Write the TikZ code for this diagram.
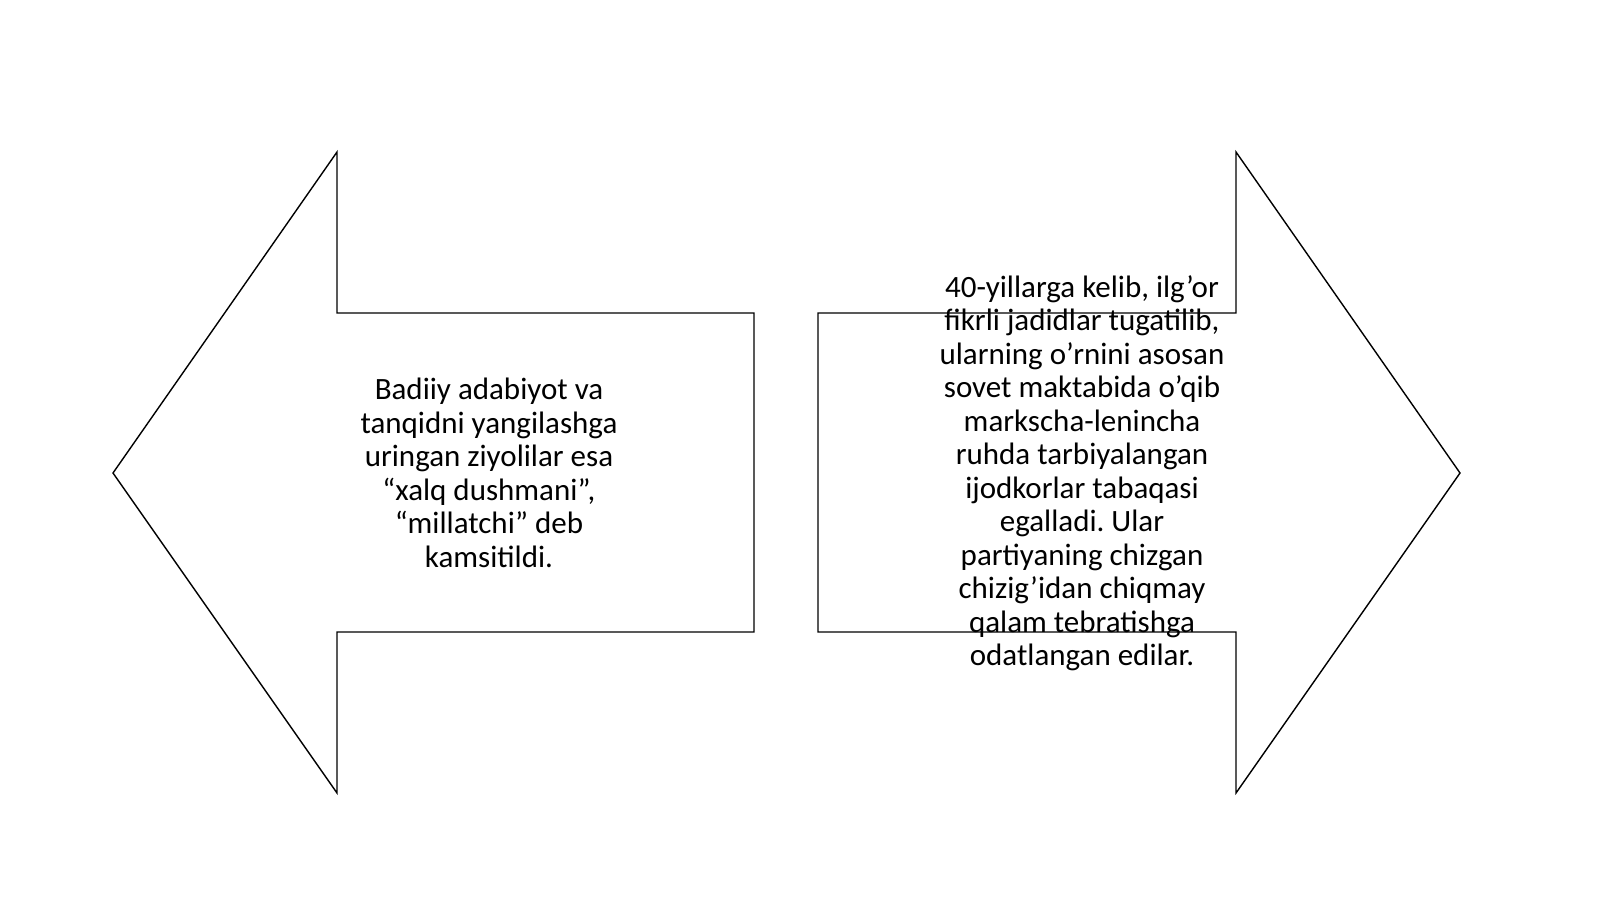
\documentclass[tikz,border=0pt]{standalone}
\usepackage{fontspec}
\setmainfont{Carlito}
\usepackage{tikz}
\usetikzlibrary{positioning}
\frenchspacing

\begin{document}
\begin{tikzpicture}[x=0.5pt,y=-0.5pt,
                    every node/.style={align=center,font=\fontsize{15.5}{16.75}\selectfont},
                    arrowshape/.style={draw=black,line width=0.7pt,line join=miter}]
    \useasboundingbox (0,0) rectangle (1600,899);

    %Arrows
    \draw[arrowshape] (113,473) -- (337,152) -- (337,313) -- (754,313)
        -- (754,632) -- (337,632) -- (337,793) -- cycle;
    \draw[arrowshape] (1460,473) -- (1236,152) -- (1236,313) -- (818,313)
        -- (818,632) -- (1236,632) -- (1236,793) -- cycle;

    %Nodes
    \node (leftText) at (489,473) {Badiiy adabiyot va\\ tanqidni yangilashga\\ uringan ziyolilar esa\\ “xalq dushmani”,\\ “millatchi” deb\\ kamsitildi.};
    \node (rightText) at (1082,473) {40-yillarga kelib, ilg’or\\ fikrli jadidlar tugatilib,\\ ularning o’rnini asosan\\ sovet maktabida o’qib\\ markscha-lenincha\\ ruhda tarbiyalangan\\ ijodkorlar tabaqasi\\ egalladi. Ular\\ partiyaning chizgan\\ chizig’idan chiqmay\\ qalam tebratishga\\ odatlangan edilar.};
\end{tikzpicture}
\end{document}
